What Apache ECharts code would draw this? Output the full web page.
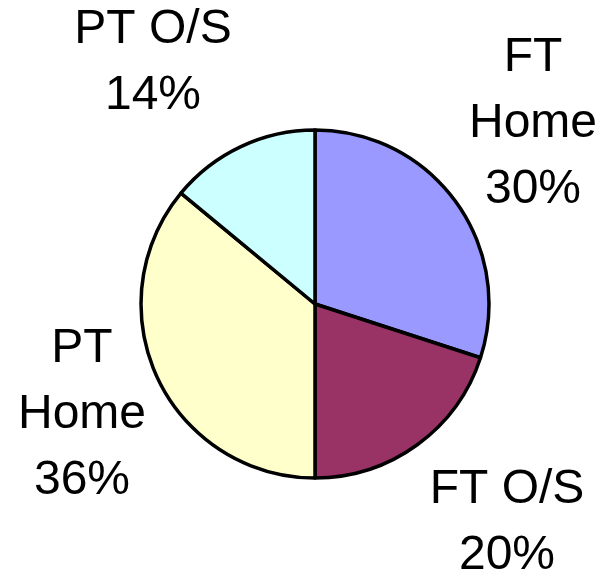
<!DOCTYPE html>
<html>
<head>
<meta charset="utf-8">
<script src="https://cdn.jsdelivr.net/npm/echarts@6/dist/echarts.min.js"></script>
<style>
    html, body { margin: 0; padding: 0; background: #fff; }
    #container { width: 611px; height: 579px; }
</style>
</head>
<body>
<div id="container"></div>
<script>
// slices, clockwise from 12 o'clock
var categories = ['FT\nHome', 'FT O/S', 'PT\nHome', 'PT O/S'];
var values = [30, 20, 36, 14];
var colors = ['#9999FF', '#993366', '#FFFFCC', '#CCFFFF'];

// where each label sits (centre of the text block)
var labelPos = [[533, 124], [507, 523], [82, 415], [153, 63]];

var myChart = echarts.init(document.getElementById('container'));

var pieData = [];
for (var i = 0; i < categories.length; i++) {
    pieData.push({ name: categories[i], value: values[i], itemStyle: { color: colors[i] } });
}

var option = {
    animation: false,
    series: [{
        type: 'pie',
        center: [315, 304],
        radius: 174,
        startAngle: 90,
        clockwise: true,
        itemStyle: { borderColor: '#000', borderWidth: 3.5 },
        label: {
            show: true,
            position: 'outside',
            formatter: '{b}\n{d}%',
            fontFamily: 'Liberation Sans, Arial, sans-serif',
            fontSize: 48,
            lineHeight: 66,
            color: '#000',
            align: 'center',
            overflow: 'none',
            width: 300
        },
        labelLine: { show: false },
        labelLayout: function (params) {
            var p = labelPos[params.dataIndex];
            return { x: p[0], y: p[1], align: 'center', verticalAlign: 'middle' };
        },
        emphasis: { disabled: true },
        data: pieData
    }]
};
myChart.setOption(option);
</script>
</body>
</html>
